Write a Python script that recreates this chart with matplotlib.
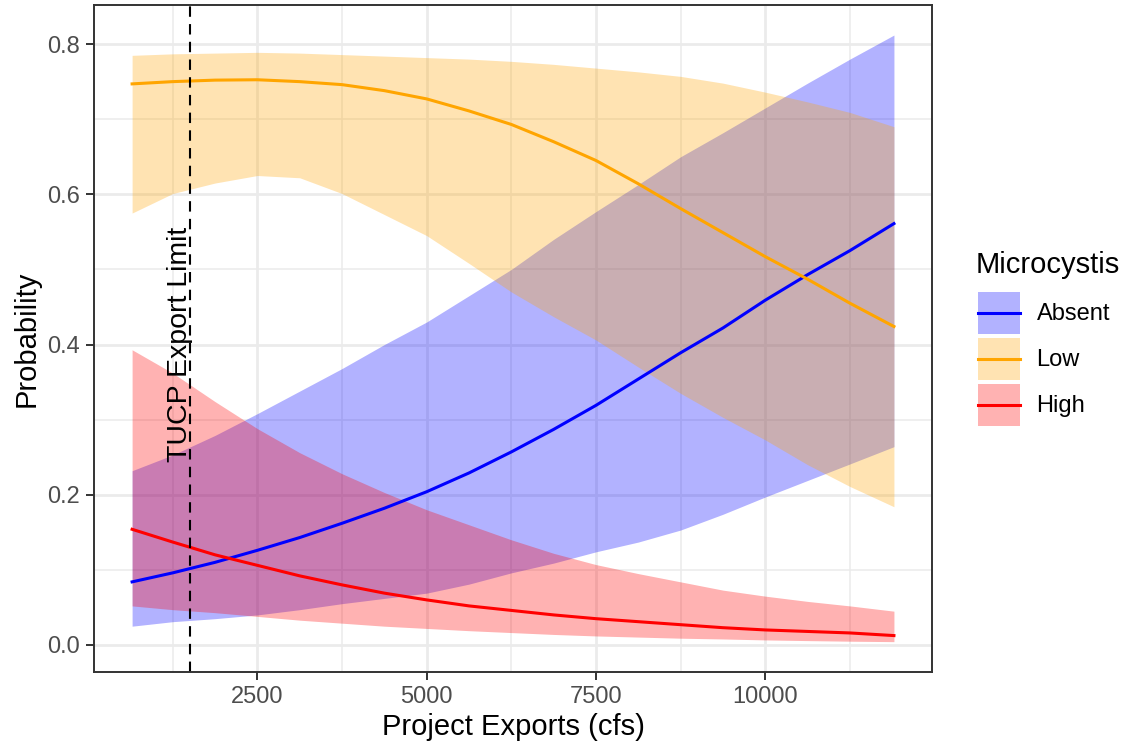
import matplotlib
matplotlib.use("Agg")
import matplotlib.pyplot as plt
from matplotlib.patches import Patch
from matplotlib.lines import Line2D
from matplotlib.legend_handler import HandlerLine2D
from matplotlib.ticker import MultipleLocator, FormatStrFormatter

plt.rcParams['font.family'] = ['Liberation Sans', 'DejaVu Sans']

# project exports (cfs)
exports = [650, 1250, 1875, 2500, 3125, 3750, 4375, 5000, 5625, 6250,
           6875, 7500, 8125, 8750, 9375, 10000, 10625, 11250, 11900]

# Absent
absent_fit = [0.084, 0.096, 0.110, 0.126, 0.143, 0.162, 0.182, 0.204, 0.229, 0.257,
              0.287, 0.319, 0.354, 0.389, 0.422, 0.459, 0.493, 0.525, 0.561]
absent_lo = [0.025, 0.031, 0.035, 0.040, 0.047, 0.055, 0.062, 0.069, 0.081, 0.096,
             0.109, 0.124, 0.137, 0.153, 0.174, 0.197, 0.219, 0.241, 0.264]
absent_hi = [0.232, 0.253, 0.279, 0.308, 0.338, 0.368, 0.400, 0.430, 0.465, 0.500,
             0.540, 0.577, 0.613, 0.650, 0.682, 0.715, 0.748, 0.780, 0.812]

# Low
low_fit = [0.747, 0.750, 0.752, 0.7525, 0.750, 0.746, 0.738, 0.727, 0.711, 0.693,
           0.670, 0.645, 0.614, 0.581, 0.549, 0.517, 0.487, 0.455, 0.424]
low_lo = [0.575, 0.601, 0.615, 0.625, 0.622, 0.601, 0.573, 0.545, 0.508, 0.470,
          0.437, 0.406, 0.370, 0.335, 0.303, 0.273, 0.240, 0.211, 0.184]
low_hi = [0.785, 0.787, 0.788, 0.789, 0.788, 0.786, 0.784, 0.782, 0.780, 0.777,
          0.773, 0.768, 0.763, 0.757, 0.748, 0.736, 0.723, 0.709, 0.690]

# High
high_fit = [0.154, 0.137, 0.120, 0.106, 0.092, 0.080, 0.069, 0.060, 0.052, 0.046,
            0.040, 0.035, 0.031, 0.027, 0.023, 0.020, 0.018, 0.016, 0.0125]
high_lo = [0.052, 0.047, 0.043, 0.038, 0.033, 0.029, 0.025, 0.022, 0.019, 0.0165,
           0.014, 0.012, 0.0105, 0.009, 0.008, 0.0067, 0.0058, 0.005, 0.0044]
high_hi = [0.393, 0.362, 0.324, 0.288, 0.256, 0.228, 0.203, 0.180, 0.160, 0.140,
           0.122, 0.107, 0.095, 0.084, 0.073, 0.065, 0.058, 0.052, 0.045]

levels = ['Absent', 'Low', 'High']
colors = ['blue', 'orange', 'red']
fits = [absent_fit, low_fit, high_fit]
los = [absent_lo, low_lo, high_lo]
his = [absent_hi, low_hi, high_hi]

tucp_limit = 1500


class CenterLine(HandlerLine2D):
    # put the legend line in the middle of the key box
    def create_artists(self, legend, orig_handle, xdescent, ydescent,
                       width, height, fontsize, trans):
        arts = super().create_artists(legend, orig_handle, xdescent, ydescent,
                                      width, height, fontsize, trans)
        for a in arts:
            a.set_ydata([height / 2 - ydescent] * len(a.get_xdata()))
        return arts


fig = plt.figure(figsize=(11.29, 7.49), dpi=100)
ax = fig.add_axes([0.0833, 0.1028, 0.7422, 0.8905])

for lo, hi, c in zip(los, his, colors):
    ax.fill_between(exports, lo, hi, color=c, alpha=0.3, linewidth=0)
for f, c in zip(fits, colors):
    ax.plot(exports, f, color=c, lw=2.2)

ax.axvline(tucp_limit, color='black', lw=1.5, dashes=(5, 3.5))
ax.text(1545, 0.4, 'TUCP Export Limit', rotation=90, ha='right', va='center',
        fontsize=20.5)

ax.set_xlim(88, 12462)
ax.set_ylim(-0.036, 0.852)
ax.xaxis.set_major_locator(MultipleLocator(2500))
ax.xaxis.set_minor_locator(MultipleLocator(1250))
ax.yaxis.set_major_locator(MultipleLocator(0.2))
ax.yaxis.set_minor_locator(MultipleLocator(0.1))
ax.set_xticks([2500, 5000, 7500, 10000])
ax.set_xticklabels(['2500', '5000', '7500', '10000'])
ax.yaxis.set_major_formatter(FormatStrFormatter('%.1f'))

ax.set_axisbelow(True)
ax.grid(which='major', color='#EBEBEB', lw=2.0)
ax.grid(which='minor', color='#EBEBEB', lw=1.1)
ax.tick_params(which='major', length=6, width=1.4, color='#333333',
               labelsize=17, labelcolor='#4D4D4D', pad=4)
ax.tick_params(which='minor', length=0)
for s in ax.spines.values():
    s.set_color('#333333')
    s.set_linewidth(1.4)

ax.set_xlabel('Project Exports (cfs)', fontsize=21, labelpad=4)
ax.set_ylabel('Probability', fontsize=21, labelpad=5)

# legend
fig.text(976 / 1129, 1 - 273 / 749, 'Microcystis', fontsize=21, ha='left', va='baseline')
handles = [(Patch(facecolor=c, alpha=0.3, edgecolor='none'), Line2D([], [], color=c, lw=2.2))
           for c in colors]
leg = fig.legend(handles, levels, loc='upper left', bbox_to_anchor=(978 / 1129, 1 - 292 / 749),
                 frameon=False, fontsize=17, handlelength=1.78, handleheight=2.36,
                 labelspacing=0.17, handletextpad=0.7, borderpad=0, borderaxespad=0,
                 handler_map={Line2D: CenterLine()})

fig.savefig('out.png', dpi=100)
